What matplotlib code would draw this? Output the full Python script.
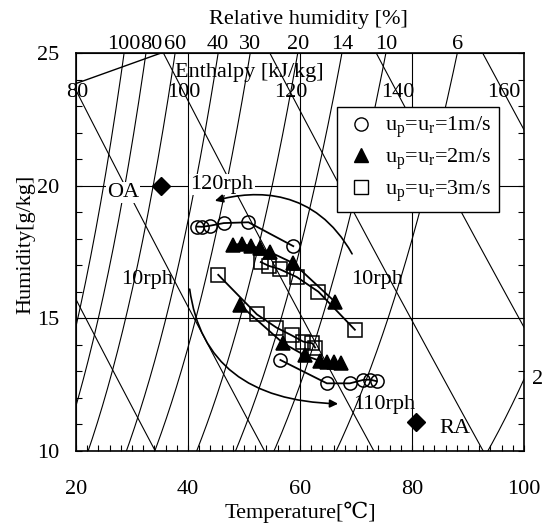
import numpy as np
import matplotlib.pyplot as plt
from matplotlib.patches import FancyArrowPatch
from matplotlib.path import Path
from matplotlib.lines import Line2D

plt.rcParams['font.family'] = ['Liberation Serif', 'DejaVu Serif', 'DejaVu Sans']
plt.rcParams['font.size'] = 16
plt.rcParams['mathtext.fontset'] = 'custom'
plt.rcParams['mathtext.rm'] = 'Liberation Serif'
plt.rcParams['mathtext.it'] = 'Liberation Serif:italic'

# psychrometric background
rh_levels = [100, 80, 60, 40, 30, 20, 14, 10, 6, 2]
rh_top_labels = ['100', '80', '60', '40', '30', '20', '14', '10', '6']
enthalpy_levels = [60, 80, 100, 120, 140, 160]
enthalpy_labels = [80, 100, 120, 140, 160]

# extra line in upper left corner (T, w)
corner_T = [20.0, 35.2]
corner_W = [23.85, 25.0]

# measured states, temperature [C] / humidity [g/kg]
# upper branch: 120rph -> 10rph
up1_T = [41.6, 42.5, 43.9, 46.4, 50.8, 58.8]
up1_W = [18.46, 18.45, 18.49, 18.59, 18.62, 17.72]
up2_T = [48.1, 49.6, 51.3, 52.9, 54.6, 58.8, 66.2]
up2_W = [17.78, 17.8, 17.72, 17.64, 17.5, 17.08, 15.63]
up3_T = [53.0, 54.4, 56.4, 59.4, 63.3, 69.8]
up3_W = [17.12, 16.98, 16.85, 16.56, 16.0, 14.57]

# lower branch: 10rph -> 110rph
lo1_T = [56.5, 64.8, 68.9, 71.3, 72.5, 73.7]
lo1_W = [13.43, 12.55, 12.55, 12.68, 12.69, 12.63]
lo2_T = [49.3, 57.0, 60.9, 63.5, 64.9, 66.1, 67.3]
lo2_W = [15.5, 14.06, 13.6, 13.4, 13.37, 13.37, 13.31]
lo3_T = [45.4, 52.3, 55.8, 58.5, 60.6, 62.2, 62.7]
lo3_W = [16.64, 15.15, 14.65, 14.36, 14.12, 14.06, 13.9]

oa_T, oa_W = [35.2], [20.0]
ra_T, ra_W = [80.7], [11.1]

# arrows (bezier control points)
arr_up_T = [69.3, 62.7, 52.0, 44.8]
arr_up_W = [17.43, 19.92, 19.85, 19.43]
arr_lo_T = [40.3, 43.0, 66.8]
arr_lo_W = [16.1, 11.92, 11.78]

legend_labels = [r'u$_\mathrm{p}$=u$_\mathrm{r}$=1m/s',
                 r'u$_\mathrm{p}$=u$_\mathrm{r}$=2m/s',
                 r'u$_\mathrm{p}$=u$_\mathrm{r}$=3m/s']

P = 101.325


def psat(T):
    Tk = np.asarray(T) + 273.15
    ln = (-5.8002206e3 / Tk + 1.3914993 - 4.8640239e-2 * Tk + 4.1764768e-5 * Tk**2
          - 1.4452093e-8 * Tk**3 + 6.5459673 * np.log(Tk))
    return np.exp(ln) / 1000.0


def w_rh(T, rh):
    pv = rh / 100.0 * psat(T)
    w = 622.0 * pv / (P - pv)
    return np.where(pv < 0.9 * P, w, np.nan)


def w_h(T, h):
    return (h - 1.006 * T) / (2501 + 1.86 * T) * 1000.0


fig = plt.figure(figsize=(5.47, 5.27), dpi=100)
ax = fig.add_axes([76 / 547, 76 / 527, 448 / 547, 398 / 527])

Tg = np.linspace(10, 100, 600)
lw_bg = 0.8
for rh in rh_levels:
    ax.plot(Tg, w_rh(Tg, rh), color='black', lw=lw_bg, zorder=1)
for h in enthalpy_levels:
    ax.plot(Tg, w_h(Tg, h), color='black', lw=lw_bg, zorder=1)
ax.plot(corner_T, corner_W, color='black', lw=1.0, zorder=1)

# rh labels at the top edge
for rh, lab in zip(rh_levels, rh_top_labels):
    wc = w_rh(Tg, rh)
    ok = ~np.isnan(wc)
    tx = np.interp(25.0, wc[ok], Tg[ok])
    if lab == '80':
        tx += 1.0
    ax.text(tx, 24.95, lab, ha='center', va='bottom', clip_on=False)
ax.text(102.4, w_rh(100.0, 2), '2', ha='center', va='center', clip_on=False)

# enthalpy labels
for h in enthalpy_labels:
    tx = (h - 23.5 * 2.501) / (1.006 + 23.5 * 0.00186)
    ax.text(tx, 23.5, str(h), ha='center', va='center')
ax.text(50.9, 24.26, 'Enthalpy [kJ/kg]', ha='center', va='center')
ax.text(0.518, 1.085, 'Relative humidity [%]', ha='center', va='center',
        transform=ax.transAxes)

ms = 9.5
series = [
    (up1_T, up1_W, 'o'), (up2_T, up2_W, '^'), (up3_T, up3_W, 's'),
    (lo1_T, lo1_W, 'o'), (lo2_T, lo2_W, '^'), (lo3_T, lo3_W, 's'),
]
for T, W, m in series:
    filled = m == '^'
    ax.plot(T, W, color='black', lw=1.3, marker=m, ms=ms,
            mfc='black' if filled else 'none', mec='black', mew=1.1, zorder=3)

ax.plot(oa_T, oa_W, 'D', color='black', ms=9, zorder=4)
ax.plot(ra_T, ra_W, 'D', color='black', ms=9, zorder=4)

up_path = Path(list(zip(arr_up_T, arr_up_W)),
               [Path.MOVETO, Path.CURVE4, Path.CURVE4, Path.CURVE4])
lo_path = Path(list(zip(arr_lo_T, arr_lo_W)),
               [Path.MOVETO, Path.CURVE3, Path.CURVE3])
for p in (up_path, lo_path):
    ax.add_patch(FancyArrowPatch(path=p, arrowstyle='-|>', mutation_scale=12,
                                 color='black', lw=1.2, zorder=3))

bb = dict(facecolor='white', edgecolor='none', pad=1)
ax.text(28.4, 19.74, 'OA', ha='center', va='center', bbox=bb, zorder=2)
ax.text(87.7, 10.83, 'RA', ha='center', va='center')
ax.text(40.4, 20.04, '120rph', ha='left', va='center', bbox=bb, zorder=2)
ax.text(32.7, 16.45, '10rph', ha='center', va='center')
ax.text(73.8, 16.45, '10rph', ha='center', va='center')
ax.text(69.5, 11.74, '110rph', ha='left', va='center')

ax.set_xlim(20, 100)
ax.set_ylim(10, 25)
ax.set_xticks([20, 40, 60, 80, 100])
ax.set_yticks([10, 15, 20, 25])
ax.set_xticks(np.arange(20, 101, 2), minor=True)
ax.set_yticks(np.arange(10, 26, 1), minor=True)
ax.tick_params(which='both', direction='in', right=True, length=4, width=0.8)
ax.tick_params(axis='x', which='major', pad=21)
ax.tick_params(axis='y', which='major', pad=12)
ax.grid(True, which='major', color='black', lw=0.8)
for s in ax.spines.values():
    s.set_linewidth(1.2)

ax.set_xlabel('Temperature[℃]')
ax.xaxis.set_label_coords(0.5, -0.128)
ax.set_ylabel('Humidity[g/kg]')
ax.yaxis.set_label_coords(-0.09, 0.52)

handles = [Line2D([], [], ls='none', marker='o', ms=ms, mfc='none', mec='black'),
           Line2D([], [], ls='none', marker='^', ms=ms, color='black'),
           Line2D([], [], ls='none', marker='s', ms=ms, mfc='none', mec='black')]
leg = ax.legend(handles, legend_labels, loc='upper left',
                bbox_to_anchor=(0.583, 0.864), borderaxespad=0,
                frameon=True, fancybox=False, framealpha=1, edgecolor='black',
                handlelength=1.4, handletextpad=0.4, labelspacing=0.28,
                borderpad=0.35)
leg.get_frame().set_linewidth(1.0)
leg.set_zorder(5)

fig.savefig('out.png', dpi=100)
